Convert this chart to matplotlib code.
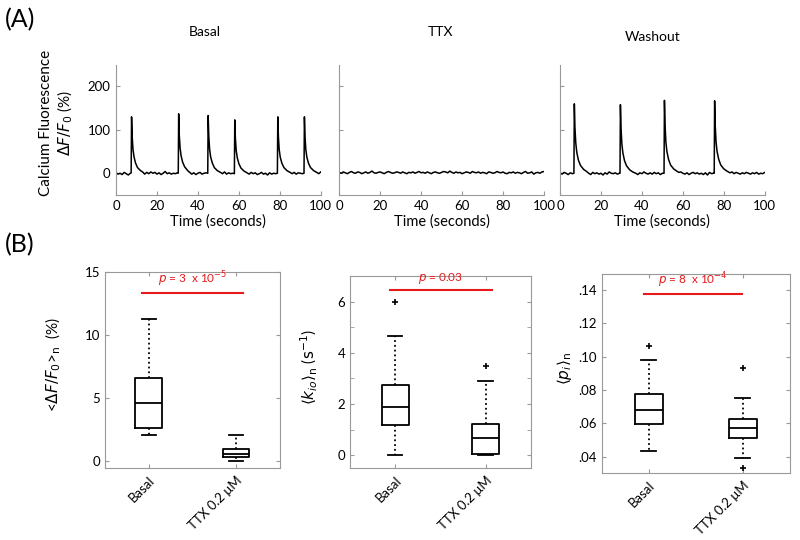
import numpy as np
import matplotlib
matplotlib.use("Agg")
from matplotlib import pyplot as plt

plt.rcParams['font.family'] = ['Lato', 'DejaVu Sans']
plt.rcParams['mathtext.fontset'] = 'dejavusans'

GRAY = (0.6, 0.6, 0.6)
RED = (0.9, 0.1, 0.1)

# (A) calcium traces, (time s, dF/F0 %)
basal_trace = [(0, 1), (1, -2), (2, 0), (3, -3), (4, 2), (5, -1), (6, -4), (7, 0), (7.4, 1),
               (7.6, 130), (7.9, 85), (8.3, 55), (8.8, 38), (9.5, 24), (10.5, 13), (12, 6), (13, 3),
               (14, -2), (15, 2), (16, -1), (17, 3), (18, 0), (19, 2), (20, -2), (21, 1), (22, -3),
               (23, 0), (24, 4), (25, -1), (26, 1), (27, -2), (28, 0), (29, -1), (30, 1), (30.4, 0),
               (30.6, 137), (30.9, 88), (31.3, 58), (31.8, 40), (32.5, 26), (33.5, 15), (35, 6),
               (36, 2), (37, -2), (38, 1), (39, -3), (40, 0), (41, 2), (42, -2), (43, 0), (44, 1),
               (44.8, 0), (45, 133), (45.3, 86), (45.7, 56), (46.2, 38), (47, 24), (48, 13),
               (49.5, 6), (51, 2), (52, -1), (53, 3), (54, -2), (55, 1), (56, -1), (57, 0),
               (57.8, -1), (58, 123), (58.3, 80), (58.7, 52), (59.2, 36), (60, 22), (61, 12),
               (62.5, 5), (64, 1), (65, -2), (66, 2), (67, -1), (68, 1), (69, -3), (70, -1), (71, 2),
               (72, -2), (73, 0), (74, -4), (75, 1), (76, -2), (77, 0), (78, -1), (78.8, 0),
               (79, 130), (79.3, 84), (79.7, 54), (80.2, 37), (81, 23), (82, 13), (83.5, 6), (85, 2),
               (86, -1), (87, 2), (88, -2), (89, 1), (90, 0), (91, -1), (91.8, 0), (92, 130),
               (92.3, 84), (92.7, 54), (93.2, 37), (94, 23), (95, 13), (96.5, 6), (98, 2), (99, -1),
               (100, 3)]

ttx_f = [2, 0, 3, 1, -1, 2, 4, 1, 0, 3, 2, -1, 1, 3, 0, 2, 5, 1, 0, 2, 3, 1, -1, 2, 4, 2, 0, 1, 3, 2,
         0, 3, 1, -1, 2, 1, 3, 0, 2, 4, 1, 2, 0, 3, 1, -1, 2, 3, 1, 0, 2, 4, 3, 1, 5, 2, 0, 3, 1, 2,
         -1, 1, 3, 2, 0, 4, 2, 1, 3, 0, 2, 1, -1, 3, 2, 0, 1, 4, 2, 1, 3, 0, -1, 2, 1, 3, 0, 2, 1, -1,
         2, 4, 0, 1, 3, -2, 1, 2, 0, 3, 4]

washout_trace = [(0, 1), (1, -2), (2, 2), (3, 0), (4, -3), (5, 1), (6, -1), (6.8, 0), (7, 160),
                 (7.3, 105), (7.7, 70), (8.2, 48), (9, 30), (10, 18), (11.5, 9), (13, 4), (14, 0),
                 (15, -3), (16, 2), (17, -1), (18, 1), (19, -2), (20, 0), (21, -4), (22, 1), (23, -2),
                 (24, 3), (25, 0), (26, -1), (27, 1), (28, -2), (29, 0), (29.3, 0), (29.5, 158),
                 (29.8, 104), (30.2, 68), (30.7, 47), (31.5, 29), (32.5, 17), (34, 8), (35.5, 3),
                 (37, 0), (38, -3), (39, 1), (40, -1), (41, 3), (42, 0), (43, -2), (44, 1), (45, -2),
                 (46, 2), (47, -1), (48, 1), (49, -3), (50, 0), (50.8, 0), (51, 168), (51.3, 110),
                 (51.7, 72), (52.2, 50), (53, 32), (54, 19), (55.5, 10), (57, 5), (58, 2), (59, 3),
                 (60, 0), (61, -2), (62, 1), (63, -3), (64, 0), (65, 2), (66, -1), (67, 1), (68, -2),
                 (69, 0), (70, -3), (71, 1), (72, -4), (73, 2), (74, -1), (75, 0), (75.3, 0),
                 (75.5, 167), (75.8, 110), (76.2, 72), (76.7, 50), (77.5, 32), (78.5, 19), (80, 10),
                 (81.5, 5), (83, 1), (84, 3), (85, -1), (86, 2), (87, 0), (88, -2), (89, 1), (90, -1),
                 (91, 2), (92, 0), (93, -2), (94, 1), (95, -1), (96, 2), (97, -2), (98, 0), (99, -1),
                 (100, 2)]

# (B) box plot summaries: q1, median, q3, whisker low, whisker high, outliers
groups = ['Basal', 'TTX 0.2 μM']
amp_stats = [(2.65, 4.6, 6.62, 2.05, 11.3, []), (0.3, 0.6, 1.0, 0.0, 2.05, [])]
kio_stats = [(1.2, 1.89, 2.74, 0.0, 4.64, [6.0]), (0.04, 0.67, 1.24, 0.0, 2.9, [3.48])]
pi_stats = [(0.0599, 0.0683, 0.0776, 0.0436, 0.098, [0.1063]),
            (0.0514, 0.0573, 0.0625, 0.0394, 0.0752, [0.093, 0.0334])]
p_texts = ['$p$ = 3  x 10$^{-5}$', '$p$ = 0.03', '$p$ = 8  x 10$^{-4}$']
p_levels = [13.35, 6.47, 0.1374]

fig = plt.figure(figsize=(8, 5.4), dpi=100)


def style_trace_axis(ax, show_labels):
    ax.set_xlim(0, 100)
    ax.set_ylim(-50, 250)
    ax.set_xticks([0, 20, 40, 60, 80, 100])
    ax.set_yticks([0, 100, 200])
    for s in ['top', 'right']:
        ax.spines[s].set_visible(False)
    for s in ['left', 'bottom']:
        ax.spines[s].set_color(GRAY)
    ax.tick_params(direction='in', length=3, color=GRAY, labelsize=9.5, pad=4)
    if not show_labels:
        ax.set_yticklabels([])
    ax.set_xlabel('Time (seconds)', fontsize=10.5, labelpad=1)
    ax.patch.set_alpha(0)


ax_b = fig.add_axes([0.145, 0.639, 0.256, 0.241])
bt, bf = zip(*basal_trace)
ax_b.plot(bt, bf, color='black', lw=1.1)
style_trace_axis(ax_b, True)

ax_t = fig.add_axes([0.424, 0.639, 0.256, 0.241])
ax_t.plot(np.linspace(0, 100, len(ttx_f)), ttx_f, color='black', lw=1.1)
style_trace_axis(ax_t, False)

ax_w = fig.add_axes([0.700, 0.639, 0.256, 0.241])
wt, wf = zip(*washout_trace)
ax_w.plot(wt, wf, color='black', lw=1.1)
style_trace_axis(ax_w, False)

fig.text(205 / 800, 1 - 32 / 540, 'Basal', ha='center', va='center', fontsize=10)
fig.text(440 / 800, 1 - 32 / 540, 'TTX', ha='center', va='center', fontsize=10)
fig.text(653 / 800, 1 - 37 / 540, 'Washout', ha='center', va='center', fontsize=10)
fig.text(46 / 800, 1 - 123 / 540, 'Calcium Fluorescence', rotation=90, ha='center', va='center', fontsize=11)
fig.text(65 / 800, 1 - 123 / 540, r'$\Delta F/F_0$ (%)', rotation=90, ha='center', va='center', fontsize=11)
fig.text(5 / 800, 1 - 20 / 540, '(A)', ha='left', va='center', fontsize=18)
fig.text(5 / 800, 1 - 245 / 540, '(B)', ha='left', va='center', fontsize=18)


def box_panel(rect, stats, ylim, major, minor, fmt, ylabel, ylab_x, ptext, plevel, pspan):
    ax = fig.add_axes(rect)
    bxs = []
    for (q1, med, q3, lo, hi, fl), name in zip(stats, groups):
        bxs.append(dict(q1=q1, med=med, q3=q3, whislo=lo, whishi=hi, fliers=fl, label=name))
    ax.bxp(bxs, positions=[1, 2], widths=0.3, capwidths=0.16,
           boxprops=dict(color='black', lw=1.3),
           medianprops=dict(color='black', lw=1.3),
           whiskerprops=dict(color='black', lw=1.3, linestyle=':'),
           capprops=dict(color='black', lw=1.3),
           flierprops=dict(marker='+', markersize=4, markeredgecolor='black', mew=1.2))
    ax.set_xlim(0.5, 2.5)
    ax.set_ylim(*ylim)
    ax.set_yticks(major)
    ax.set_yticks(minor, minor=True)
    ax.set_yticklabels([fmt(v) for v in major])
    ax.set_xticks([1, 2])
    ax.set_xticklabels(groups, rotation=45, ha='right', rotation_mode='anchor', fontsize=10)
    for s in ax.spines.values():
        s.set_color(GRAY)
    ax.tick_params(direction='in', length=3, color=GRAY, labelsize=9.5, top=True, right=True)
    ax.tick_params(which='minor', direction='in', length=3, color=GRAY, right=True)
    ax.tick_params(axis='x', pad=4)
    ax.plot(pspan, [plevel, plevel], color=RED, lw=1.5)
    ax.text(np.mean(pspan), plevel + (ylim[1] - ylim[0]) * 0.02, ptext, color=RED,
            ha='center', va='bottom', fontsize=8.5)
    fig.text(ylab_x, rect[1] + rect[3] / 2 + 0.01, ylabel, rotation=90,
             ha='center', va='center', fontsize=11)
    return ax


box_panel([0.131, 0.133, 0.219, 0.363], amp_stats, (-0.55, 15), [0, 5, 10, 15], [],
          lambda v: '%d' % v, r'<$\Delta F/F_0$>$_\mathrm{n}$  (%)', 53 / 800,
          p_texts[0], p_levels[0], [0.92, 2.08])
box_panel([0.4375, 0.133, 0.226, 0.356], kio_stats, (-0.5, 7), [0, 2, 4, 6], [1, 3, 5, 7],
          lambda v: '%d' % v, r'$\langle k_{io}\rangle_\mathrm{n}$ ($\mathrm{s}^{-1}$)', 309 / 800,
          p_texts[1], p_levels[1], [0.94, 2.07])
box_panel([0.752, 0.1235, 0.235, 0.370], pi_stats, (0.03, 0.15), [0.04, 0.06, 0.08, 0.10, 0.12, 0.14], [],
          lambda v: ('%.2f' % v)[1:], r'$\langle p_i\rangle_\mathrm{n}$', 565 / 800,
          p_texts[2], p_levels[2], [0.95, 1.99])

fig.savefig('out.png', dpi=100)
